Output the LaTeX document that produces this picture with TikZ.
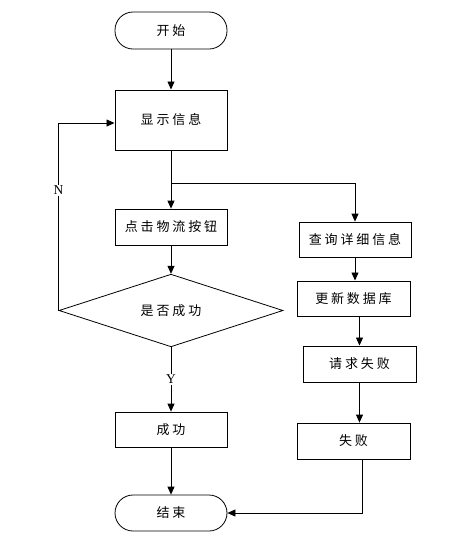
\documentclass[tikz,border=0pt]{standalone}
\usepackage{fontspec}
\setmainfont{Liberation Serif}
\newfontfamily\cjk[LetterSpace=22]{Noto Sans CJK SC}
\usetikzlibrary{arrows.meta,shapes.geometric,calc}
\begin{document}
\begin{tikzpicture}[x=1pt,y=-1pt,
  box/.style={draw,line width=0.8pt,minimum width=112pt,inner sep=0pt,font=\cjk\fontsize{13}{13}\selectfont},
  term/.style={box,rounded corners=18pt,minimum height=37pt},
  dec/.style={draw,line width=0.8pt,diamond,minimum width=224pt,minimum height=59pt,inner sep=0pt,font=\cjk\fontsize{13}{13}\selectfont},
  arr/.style={line width=0.8pt,-{Triangle[length=8pt,width=7pt]}},
  lbl/.style={fill=white,inner sep=1pt,font=\fontsize{13.5}{13.5}\selectfont}]
\useasboundingbox (0,0) rectangle (473,542);
\node[term] (start) at (171,30.5) {开始};
\node[box,minimum height=60pt,line width=1pt] (show) at (171,120) {显示信息};
\node[box,minimum height=36pt] (click) at (171,227) {点击物流按钮};
\node[dec] (ok) at (171,310.5) {是否成功};
\node[box,minimum height=35pt] (succ) at (171,429.5) {成功};
\node[term,minimum height=36pt] (end) at (171,513) {结束};
\node[box,minimum height=35pt] (query) at (355,239.5) {查询详细信息};
\node[box,minimum width=113pt,minimum height=35pt,line width=1pt] (update) at (353.5,298.5) {更新数据库};
\node[box,minimum width=113pt,minimum height=36pt,line width=1pt] (reqfail) at (359.5,364) {请求失败};
\node[box,minimum width=113pt,minimum height=36pt] (fail) at (353.5,441) {失败};
\coordinate (br) at (171,183);
\draw[arr] (start) -- (show);
\draw[arr] (show) -- (click);
\draw[line width=0.8pt] (show.south) -- (br);
\draw[arr] (br) -| (query.north);
\draw[arr] (click) -- (ok);
\draw[arr] (ok.west) |- ($(show.west)+(0,3)$) node[lbl,pos=0.321] {N};
\draw[arr] (ok) -- node[lbl,pos=0.5] {Y} (succ);
\draw[arr] (succ) -- (end);
\draw[arr] (query) -- (query.south |- update.north);
\draw[arr] (reqfail.north |- update.south) -- (reqfail.north);
\draw[arr] (reqfail.south) -- (reqfail.south |- fail.north);
\draw[arr] ($(fail.south)+(8.5,0)$) |- (end.east);
\end{tikzpicture}
\end{document}
